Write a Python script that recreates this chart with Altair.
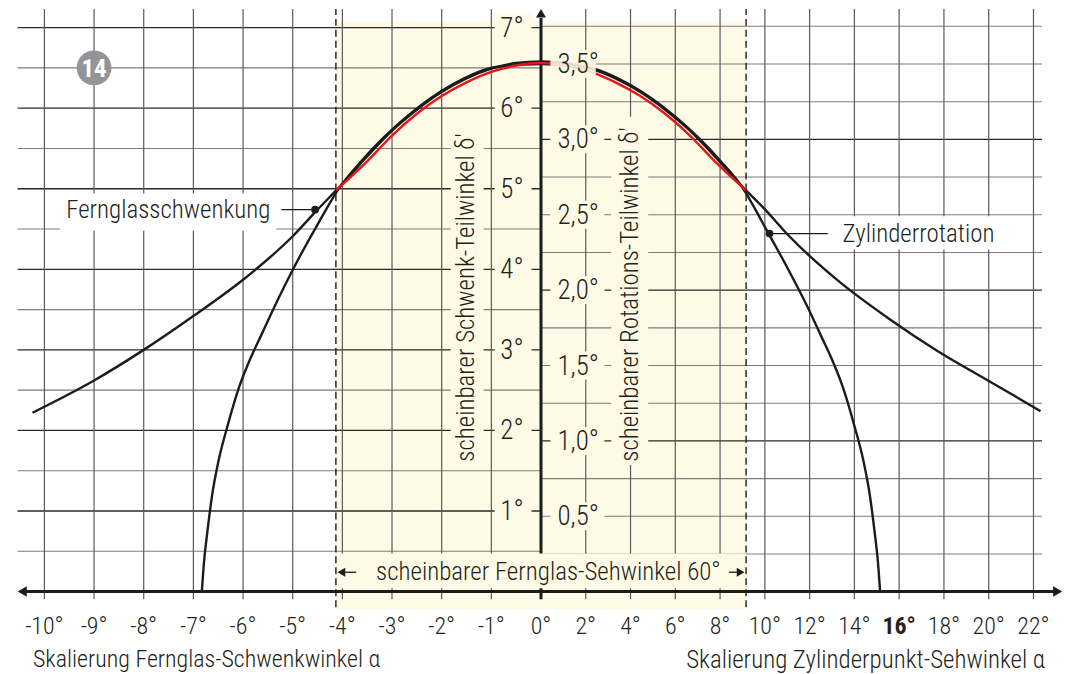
import altair as alt
import pandas as pd

# ---------------- data ----------------
# Fernglasschwenkung: x = Fernglas-Schwenkwinkel alpha (deg), y = scheinbarer Schwenk-Teilwinkel (deg, left scale)
fern_alpha = [-10.24, -9, -8, -7, -6, -5, -4.5, -4, -3.5, -3, -2.5, -2, -1.5, -1, -0.5, 0,
              0.5, 1, 1.5, 2, 2.5, 3, 3.5, 4, 4.5, 5, 6, 7, 8, 9, 10.06]
fern_delta = [2.22, 2.62, 3.00, 3.42, 3.87, 4.41, 4.74, 5.06, 5.40, 5.72, 5.98, 6.20, 6.37, 6.49, 6.56, 6.58,
              6.56, 6.49, 6.37, 6.20, 5.98, 5.72, 5.40, 5.06, 4.75, 4.41, 3.85, 3.39, 2.98, 2.62, 2.24]
# Zylinderrotation: x = Zylinderpunkt-Sehwinkel (deg), y = scheinbarer Rotations-Teilwinkel (deg, right scale)
zyl_d = [-15.15, -15.05, -14.9, -14.7, -14.4, -14, -13.5, -13, -12.5, -12, -11, -10, -9, -8, -6, -4, -2, 0,
         2, 4, 6, 8, 9, 10, 11, 12, 12.5, 13, 13.5, 14, 14.4, 14.7, 14.9, 15.05, 15.15]
zyl_r = [0, 0.20, 0.40, 0.63, 0.87, 1.10, 1.35, 1.54, 1.70, 1.86, 2.16, 2.43, 2.68, 2.86, 3.15, 3.36, 3.48, 3.50,
         3.48, 3.36, 3.15, 2.86, 2.68, 2.42, 2.15, 1.86, 1.70, 1.54, 1.35, 1.10, 0.87, 0.63, 0.40, 0.20, 0]
# red curve (within the 60 deg field of view), left scale units
red_alpha = [-4.13, -3.5, -3, -2.5, -2, -1.5, -1, -0.5, 0, 0.5, 1, 1.5, 2, 2.5, 3, 3.5, 4.13]
red_delta = [4.98, 5.34, 5.66, 5.93, 6.15, 6.32, 6.45, 6.53, 6.56, 6.53, 6.45, 6.32, 6.15, 5.93, 5.66, 5.34, 4.98]

field_edge = 4.13  # +/- Fernglas-Schwenkwinkel of the 60 deg field

left_y_ticks = [1, 2, 3, 4, 5, 6, 7]
left_y_labels = ["1°", "2°", "3°", "4°", "5°", "6°", "7°"]
right_y_ticks = [0.5, 1.0, 1.5, 2.0, 2.5, 3.0]
right_y_labels = ["0,5°", "1,0°", "1,5°", "2,0°", "2,5°", "3,0°"]
right_y_top_tick = [3.5]
right_y_top_label = ["3,5°"]

left_x_ticks = [-10, -9, -8, -7, -6, -5, -4, -3, -2, -1, 0]
left_x_labels = ["-10°", "-9°", "-8°", "-7°", "-6°", "-5°", "-4°", "-3°", "-2°", "-1°", "0°"]
right_x_ticks = [2, 4, 6, 8, 10, 12, 14, 16, 18, 20, 22]
right_x_labels = ["2°", "4°", "6°", "8°", "10°", "12°", "14°", "16°", "18°", "20°", "22°"]

left_grid_major = [1, 2, 3, 4, 5, 6, 7]
left_grid_minor = [0.5, 1.5, 2.5, 3.5, 4.5, 5.5, 6.5]
right_grid_major = [1.0, 2.0, 3.0]
right_grid_minor = [0.25, 0.5, 0.75, 1.25, 1.5, 1.75, 2.25, 2.5, 2.75, 3.25, 3.5, 3.75]
left_vgrid = [-10, -9, -8, -7, -6, -5, -4, -3, -2, -1]
right_vgrid = [2, 4, 6, 8, 10, 12, 14, 16, 18, 20, 22]

# ---------------- styling / scales ----------------
W, H = 1060, 666
XL = alt.Scale(domain=[-10.733, 10.552], nice=False, zero=False)
XR = alt.Scale(domain=[-23.808, 23.408], nice=False, zero=False)
YL = alt.Scale(domain=[-1.0111, 7.2314], nice=False, zero=False)
YR = alt.Scale(domain=[-0.5397, 3.8651], nice=False, zero=False)

FONT = "Roboto Condensed, Liberation Sans Narrow, DejaVu Sans Condensed, sans-serif"
FW = 300
TXT = "#231f20"
BAND = "#fefae6"
DARK = "#2a2a2a"
GRAY = "#7d7d7d"
VGRID = "#5a5a5a"
CURVE = "#1c1c1c"
RED = "#e3161b"

one = pd.DataFrame({"k": [0]})


def X(f=None, sc=XL, datum=None):
    if datum is not None:
        return alt.X(datum=datum, type="quantitative", scale=sc, axis=None)
    return alt.X(f, type="quantitative", scale=sc, axis=None)


def Y(f=None, sc=YL, datum=None):
    if datum is not None:
        return alt.Y(datum=datum, type="quantitative", scale=sc, axis=None)
    return alt.Y(f, type="quantitative", scale=sc, axis=None)


def vals(lst, labels=None):
    d = {"v": lst}
    if labels is not None:
        d["t"] = labels
    return pd.DataFrame(d)


layers = []

# yellow field band
layers.append(alt.Chart(one).mark_rect(color=BAND).encode(
    x=X(datum=-field_edge), x2=alt.X2(datum=field_edge),
    y=Y(datum=-0.219), y2=alt.Y2(datum=7.083)))

# horizontal grid (left half, left scale)
layers.append(alt.Chart(vals(left_grid_minor)).mark_rule(color=GRAY, strokeWidth=1.1).encode(
    y=Y("v"), x=X(datum=-10.54), x2=alt.X2(datum=0)))
layers.append(alt.Chart(vals(left_grid_major)).mark_rule(color=DARK, strokeWidth=1.3).encode(
    y=Y("v"), x=X(datum=-10.54), x2=alt.X2(datum=0)))
# horizontal grid (right half, right scale)
layers.append(alt.Chart(vals(right_grid_minor)).mark_rule(color=GRAY, strokeWidth=1.1).encode(
    y=Y("v", YR), x=X(datum=0, sc=XR), x2=alt.X2(datum=22.38)))
layers.append(alt.Chart(vals(right_grid_major)).mark_rule(color=DARK, strokeWidth=1.3).encode(
    y=Y("v", YR), x=X(datum=0, sc=XR), x2=alt.X2(datum=22.38)))
# vertical grid
layers.append(alt.Chart(vals(left_vgrid)).mark_rule(color=VGRID, strokeWidth=1.2).encode(
    x=X("v"), y=Y(datum=-0.095), y2=alt.Y2(datum=7.2314)))
layers.append(alt.Chart(vals(right_vgrid)).mark_rule(color=VGRID, strokeWidth=1.2).encode(
    x=X("v", XR), y=Y(datum=-0.095), y2=alt.Y2(datum=7.2314)))

# axes
layers.append(alt.Chart(one).mark_rule(color=CURVE, strokeWidth=3).encode(
    y=Y(datum=0), x=X(datum=-10.42), x2=alt.X2(datum=10.36)))
layers.append(alt.Chart(one).mark_rule(color=CURVE, strokeWidth=3).encode(
    x=X(datum=0), y=Y(datum=-0.095), y2=alt.Y2(datum=7.12)))

# label backgrounds (mask the grid)
layers.append(alt.Chart(vals(left_y_ticks)).mark_rect(color=BAND, yOffset=-14, y2Offset=14).encode(
    x=X(datum=-0.934), x2=alt.X2(datum=-0.19), y=Y("v"), y2=alt.Y2("v")))
layers.append(alt.Chart(vals(right_y_ticks)).mark_rect(color=BAND, yOffset=-14, y2Offset=14).encode(
    x=X(datum=0.42, sc=XR), x2=alt.X2(datum=2.83), y=Y("v", YR), y2=alt.Y2("v")))
layers.append(alt.Chart(one).mark_rect(color=BAND).encode(
    x=X(datum=-1.817), x2=alt.X2(datum=-1.155), y=Y(datum=1.56), y2=alt.Y2(datum=5.86)))
layers.append(alt.Chart(one).mark_rect(color=BAND).encode(
    x=X(datum=3.14, sc=XR), x2=alt.X2(datum=4.79), y=Y(datum=0.84, sc=YR), y2=alt.Y2(datum=3.15)))
layers.append(alt.Chart(one).mark_rect(color=BAND).encode(
    x=X(datum=-field_edge), x2=alt.X2(datum=field_edge), y=Y(datum=0.04), y2=alt.Y2(datum=0.474)))
layers.append(alt.Chart(one).mark_rect(color="white").encode(
    x=X(datum=-9.69), x2=alt.X2(datum=-5.33), y=Y(datum=4.48), y2=alt.Y2(datum=4.94)))
layers.append(alt.Chart(one).mark_rect(color="white").encode(
    x=X(datum=13.2, sc=XR), x2=alt.X2(datum=20.7), y=Y(datum=2.27, sc=YR), y2=alt.Y2(datum=2.49)))

# dashed field limits
layers.append(alt.Chart(vals([-field_edge, field_edge])).mark_rule(
    color=CURVE, strokeWidth=1.4, strokeDash=[7, 4]).encode(
    x=X("v"), y=Y(datum=-0.194), y2=alt.Y2(datum=7.2314)))

# arrow heads
layers.append(alt.Chart(one).mark_point(shape="triangle-up", filled=True, size=100, color=CURVE, opacity=1).encode(
    x=X(datum=0), y=Y(datum=7.178)))
layers.append(alt.Chart(one).mark_point(shape="triangle-left", filled=True, size=110, color=CURVE, opacity=1).encode(
    x=X(datum=-10.446), y=Y(datum=0)))
layers.append(alt.Chart(one).mark_point(shape="triangle-right", filled=True, size=110, color=CURVE, opacity=1).encode(
    x=X(datum=23.08, sc=XR), y=Y(datum=0)))

# curves
fern_df = pd.DataFrame({"a": fern_alpha, "d": fern_delta})
zyl_df = pd.DataFrame({"a": zyl_d, "d": zyl_r})
red_df = pd.DataFrame({"a": red_alpha, "d": red_delta})
layers.append(alt.Chart(zyl_df).mark_line(color=CURVE, strokeWidth=2.4, interpolate="monotone").encode(
    x=X("a", XR), y=Y("d", YR), order="a:Q"))
layers.append(alt.Chart(fern_df).mark_line(color=CURVE, strokeWidth=2.4, interpolate="monotone").encode(
    x=X("a"), y=Y("d"), order="a:Q"))
layers.append(alt.Chart(red_df).mark_line(color=RED, strokeWidth=2.4, interpolate="monotone").encode(
    x=X("a"), y=Y("d"), order="a:Q"))

# 3,5° label box over the curves
layers.append(alt.Chart(vals(right_y_top_tick)).mark_rect(color=BAND, opacity=0.88, yOffset=-14, y2Offset=14).encode(
    x=X(datum=0.42, sc=XR), x2=alt.X2(datum=2.45), y=Y("v", YR), y2=alt.Y2("v")))

# field-of-view arrows
layers.append(alt.Chart(one).mark_rule(color=CURVE, strokeWidth=1.3).encode(
    x=X(datum=-4.05), x2=alt.X2(datum=-3.72), y=Y(datum=0.24)))
layers.append(alt.Chart(one).mark_rule(color=CURVE, strokeWidth=1.3).encode(
    x=X(datum=3.785), x2=alt.X2(datum=4.05), y=Y(datum=0.24)))
layers.append(alt.Chart(one).mark_point(shape="triangle-left", filled=True, size=80, color=CURVE, opacity=1).encode(
    x=X(datum=-4.02), y=Y(datum=0.24)))
layers.append(alt.Chart(one).mark_point(shape="triangle-right", filled=True, size=80, color=CURVE, opacity=1).encode(
    x=X(datum=4.02), y=Y(datum=0.24)))

# leaders and dots
layers.append(alt.Chart(one).mark_rule(color=CURVE, strokeWidth=1.3).encode(
    x=X(datum=-5.23), x2=alt.X2(datum=-4.55), y=Y(datum=4.74)))
layers.append(alt.Chart(one).mark_circle(color=CURVE, size=60, opacity=1).encode(
    x=X(datum=-4.55), y=Y(datum=4.74)))
layers.append(alt.Chart(one).mark_rule(color=CURVE, strokeWidth=1.3).encode(
    x=X(datum=10.21, sc=XR), x2=alt.X2(datum=12.81), y=Y(datum=2.375, sc=YR)))
layers.append(alt.Chart(one).mark_circle(color=CURVE, size=60, opacity=1).encode(
    x=X(datum=10.21, sc=XR), y=Y(datum=2.375, sc=YR)))

# badge
layers.append(alt.Chart(one).mark_circle(color="#939598", size=1220, opacity=1).encode(
    x=X(datum=-9.0), y=Y(datum=6.5)))
layers.append(alt.Chart(one).mark_text(text="14", font=FONT, fontSize=25, fontWeight="bold",
                                       color="white", align="center", baseline="middle", dy=1).encode(
    x=X(datum=-9.0), y=Y(datum=6.5)))

# tick labels
layers.append(alt.Chart(vals(left_y_ticks, left_y_labels)).mark_text(
    font=FONT, fontSize=27, fontWeight=FW, color=TXT, align="right", baseline="middle", dy=1).encode(
    x=X(datum=-0.35), y=Y("v"), text="t:N"))
layers.append(alt.Chart(vals(right_y_ticks + right_y_top_tick, right_y_labels + right_y_top_label)).mark_text(
    font=FONT, fontSize=27, fontWeight=FW, color=TXT, align="left", baseline="middle", dy=1).encode(
    x=X(datum=0.735, sc=XR), y=Y("v", YR), text="t:N"))
layers.append(alt.Chart(vals(left_x_ticks, left_x_labels)).mark_text(
    font=FONT, fontSize=24, fontWeight=FW, color=TXT, align="center", baseline="middle").encode(
    x=X("v"), y=Y(datum=-0.442), text="t:N"))
layers.append(alt.Chart(vals(right_x_ticks, right_x_labels)).transform_filter("datum.v != 16").mark_text(
    font=FONT, fontSize=24, fontWeight=FW, color=TXT, align="center", baseline="middle").encode(
    x=X("v", XR), y=Y(datum=-0.442), text="t:N"))
layers.append(alt.Chart(vals(right_x_ticks, right_x_labels)).transform_filter("datum.v == 16").mark_text(
    font=FONT, fontSize=24, fontWeight="bold", color=TXT, align="center", baseline="middle").encode(
    x=X("v", XR), y=Y(datum=-0.442), text="t:N"))

# titles / annotations
layers.append(alt.Chart(one).mark_text(
    text="scheinbarer Schwenk-Teilwinkel δ'", font=FONT, fontSize=25, fontWeight=FW, color=TXT,
    angle=270, align="left", baseline="middle").encode(x=X(datum=-1.516), y=Y(datum=1.613)))
layers.append(alt.Chart(one).mark_text(
    text="scheinbarer Rotations-Teilwinkel δ'", font=FONT, fontSize=25, fontWeight=FW, color=TXT,
    angle=270, align="left", baseline="middle").encode(x=X(datum=3.987, sc=XR), y=Y(datum=0.862, sc=YR)))
layers.append(alt.Chart(one).mark_text(
    text="scheinbarer Fernglas-Sehwinkel 60°", font=FONT, fontSize=25, fontWeight=FW, color=TXT,
    align="center", baseline="middle").encode(x=X(datum=0.15), y=Y(datum=0.24)))
layers.append(alt.Chart(one).mark_text(
    text="Fernglasschwenkung", font=FONT, fontSize=25, fontWeight=FW, color=TXT,
    align="right", baseline="middle").encode(x=X(datum=-5.45), y=Y(datum=4.74)))
layers.append(alt.Chart(one).mark_text(
    text="Zylinderrotation", font=FONT, fontSize=25, fontWeight=FW, color=TXT,
    align="left", baseline="middle").encode(x=X(datum=13.47, sc=XR), y=Y(datum=2.375, sc=YR)))
layers.append(alt.Chart(one).mark_text(
    text="Skalierung Fernglas-Schwenkwinkel α", font=FONT, fontSize=24, fontWeight=FW, color=TXT,
    align="left", baseline="middle").encode(x=X(datum=-10.23), y=Y(datum=-0.85)))
layers.append(alt.Chart(one).mark_text(
    text="Skalierung Zylinderpunkt-Sehwinkel α", font=FONT, fontSize=25, fontWeight=FW, color=TXT,
    align="right", baseline="middle").encode(x=X(datum=22.52, sc=XR), y=Y(datum=-0.85)))

chart = alt.layer(*layers).resolve_scale(x="independent", y="independent").properties(
    width=W, height=H, padding=0, autosize=alt.AutoSizeParams(type="none"),
    background="white"
).configure_view(strokeWidth=0)

chart.save("out.html", embed_options={"renderer": "svg", "actions": False})
